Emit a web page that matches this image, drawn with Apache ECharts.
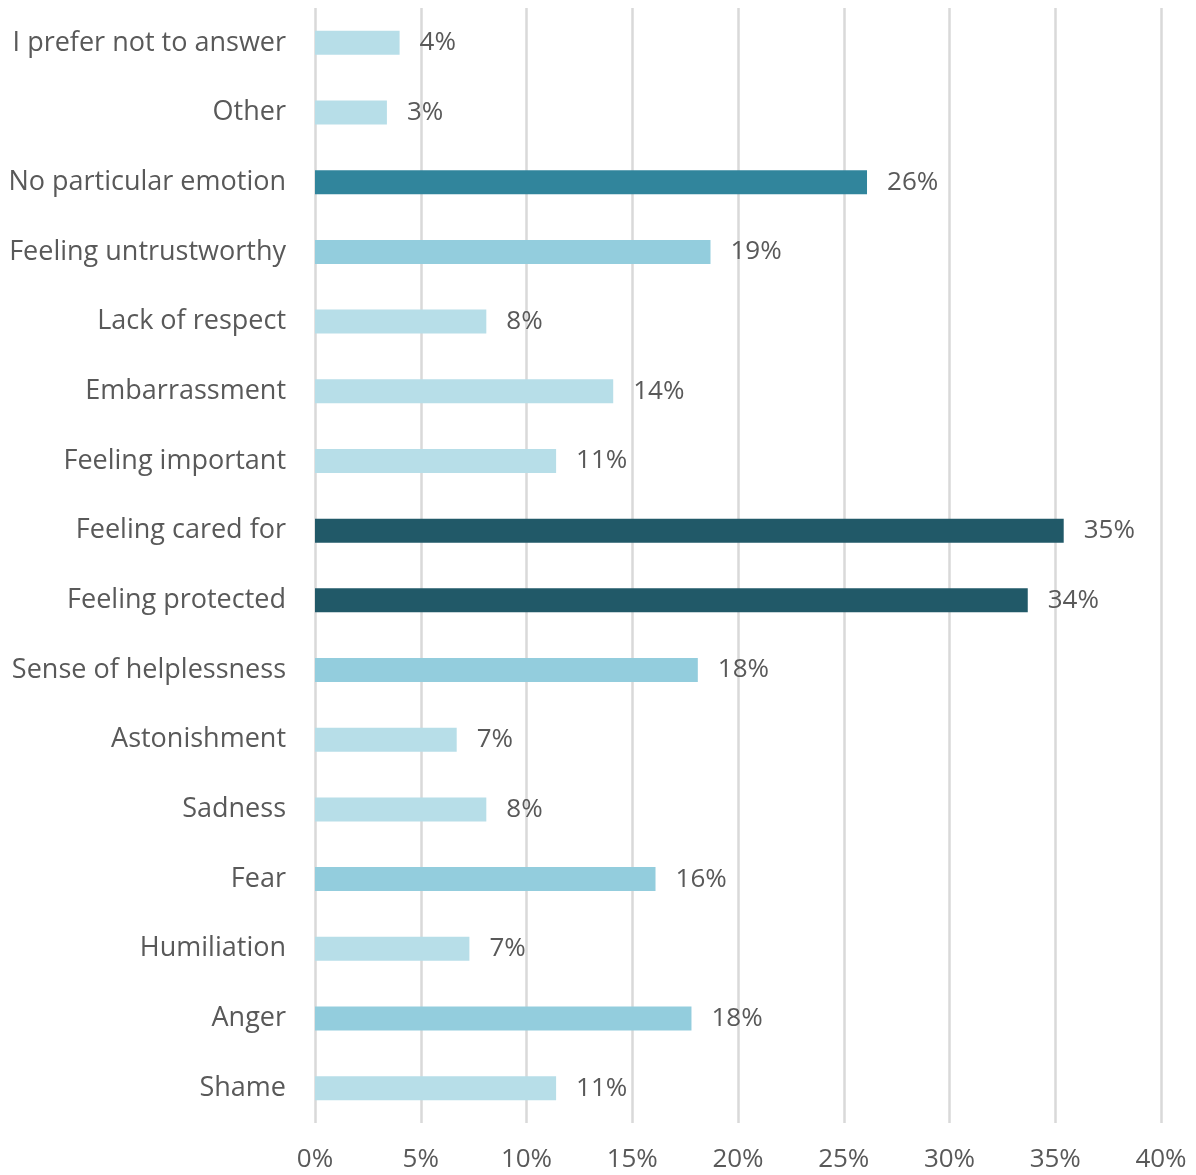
<!DOCTYPE html>
<html>
<head>
<meta charset="utf-8">
<style>
  html, body { margin: 0; padding: 0; background: #ffffff; }
  #chart { width: 1196px; height: 1175px; }
</style>
<script src="https://cdn.jsdelivr.net/npm/echarts@6/dist/echarts.min.js"></script>
</head>
<body>
<div id="chart"></div>
<script>
// Emotions reported, top to bottom
const categories = [
  'I prefer not to answer',
  'Other',
  'No particular emotion',
  'Feeling untrustworthy',
  'Lack of respect',
  'Embarrassment',
  'Feeling important',
  'Feeling cared for',
  'Feeling protected',
  'Sense of helplessness',
  'Astonishment',
  'Sadness',
  'Fear',
  'Humiliation',
  'Anger',
  'Shame'
];

// Share of respondents, in percent
const shares = [
  4.0, 3.4, 26.1, 18.7, 8.1, 14.1, 11.4, 35.4,
  33.7, 18.1, 6.7, 8.1, 16.1, 7.3, 17.8, 11.4
];

const tickValues = [0, 5, 10, 15, 20, 25, 30, 35, 40];

// Shade bars by how large the share is
function shadeFor(v) {
  if (v >= 30) return '#215968';
  if (v >= 20) return '#31859c';
  if (v >= 15) return '#93cddd';
  return '#b7dee8';
}

const fontFamily = '"Open Sans", sans-serif';
const textColor = '#595959';

const chart = echarts.init(document.getElementById('chart'));
chart.setOption({
  animation: false,
  grid: { left: 315, right: 35, top: 8, bottom: 52, containLabel: false },
  xAxis: {
    type: 'value',
    min: tickValues[0],
    max: tickValues[tickValues.length - 1],
    interval: 5,
    axisLine: { show: false },
    axisTick: { show: false },
    splitLine: { show: true, lineStyle: { color: '#d9d9d9', width: 2.5 } },
    axisLabel: {
      formatter: v => v + '%',
      color: textColor,
      fontFamily: fontFamily,
      fontSize: 26,
      margin: 24
    }
  },
  yAxis: {
    type: 'category',
    data: categories,
    inverse: true,
    axisLine: { show: false },
    axisTick: { show: false },
    axisLabel: {
      color: textColor,
      fontFamily: fontFamily,
      fontSize: 27,
      margin: 29,
      padding: [3, 0, 0, 0]
    }
  },
  series: [{
    type: 'bar',
    barWidth: 24,
    data: shares.map(v => ({ value: v, itemStyle: { color: shadeFor(v) } })),
    label: {
      show: true,
      position: 'right',
      distance: 20,
      padding: [3, 0, 0, 0],
      formatter: p => Math.round(p.value) + '%',
      color: textColor,
      fontFamily: fontFamily,
      fontSize: 26
    }
  }]
});
</script>
</body>
</html>
